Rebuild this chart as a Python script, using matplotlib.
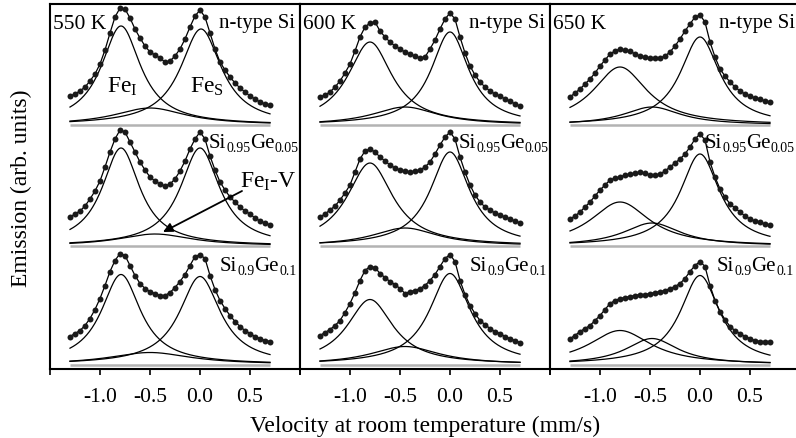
import numpy as np
import matplotlib
matplotlib.use('Agg')
from matplotlib import pyplot as plt

plt.rcParams['font.family'] = 'Liberation Serif'
plt.rcParams['mathtext.fontset'] = 'custom'
plt.rcParams['mathtext.rm'] = 'Liberation Serif'
plt.rcParams['mathtext.it'] = 'Liberation Serif:italic'
plt.rcParams['axes.unicode_minus'] = False

# velocity of the measured points (mm/s)
velocity = np.round(np.arange(-1.3, 0.7001, 0.05), 2)

temperatures = ['550 K', '600 K', '650 K']
# sample names as (text, subscript?) pieces
sample_parts = [[('n-type Si', False)],
                [('Si', False), ('0.95', True), ('Ge', False), ('0.05', True)],
                [('Si', False), ('0.9', True), ('Ge', False), ('0.1', True)]]
row_offset = [244, 123, 4.5]   # vertical shift of each spectrum

# measured emission (arb. units, above each spectrum's baseline)
n_si_550 = [29, 31, 34, 38, 44, 51, 61, 75, 92, 108, 117, 116, 107, 96, 87, 79, 73, 70, 67, 63, 64,
            69, 76, 86, 98, 109, 115, 108, 92, 76, 63, 55, 48, 42, 37, 33, 29, 26, 23, 21, 20]
sige5_550 = [29, 32, 35, 40, 47, 55, 65, 79, 94, 107, 116, 114, 104, 94, 84, 76, 69, 65, 62, 60, 62,
             67, 75, 85, 97, 107, 114, 107, 90, 76, 64, 56, 49, 44, 39, 35, 32, 28, 25, 23, 21]
sige10_550 = [28, 31, 34, 39, 46, 55, 66, 79, 93, 104, 111, 109, 99, 89, 81, 76, 73, 71, 69, 69, 72,
              77, 83, 90, 99, 108, 110, 106, 89, 75, 64, 56, 49, 43, 38, 34, 31, 28, 26, 24, 23]
n_si_600 = [28, 30, 33, 38, 44, 52, 61, 74, 88, 98, 102, 103, 94, 88, 83, 79, 76, 73, 71, 69, 67,
            68, 76, 85, 96, 106, 112, 106, 88, 72, 59, 50, 43, 38, 34, 31, 29, 26, 24, 21, 19]
sige5_600 = [29, 32, 36, 40, 46, 53, 61, 74, 87, 95, 97, 94, 89, 85, 81, 78, 76, 75, 74, 75, 76,
             79, 84, 92, 101, 109, 114, 107, 89, 74, 61, 51, 44, 39, 36, 33, 31, 29, 27, 25, 23]
sige10_600 = [29, 32, 35, 39, 44, 52, 61, 72, 84, 94, 98, 97, 91, 87, 83, 80, 76, 71, 73, 74, 76,
              79, 84, 90, 98, 106, 110, 103, 84, 70, 59, 51, 44, 40, 36, 33, 31, 28, 26, 24, 22]
n_si_650 = [28, 32, 36, 41, 46, 52, 59, 65, 71, 74, 76, 75, 74, 71, 69, 68, 67, 67, 67, 69, 73,
            79, 86, 94, 101, 108, 110, 103, 83, 68, 56, 49, 43, 38, 34, 31, 29, 27, 26, 24, 23]
sige5_650 = [27, 30, 34, 39, 44, 50, 56, 61, 66, 68, 69, 71, 72, 73, 74, 73, 71, 71, 72, 75, 79,
             83, 87, 92, 99, 107, 112, 106, 84, 69, 57, 49, 42, 38, 34, 30, 27, 25, 24, 22, 21]
sige10_650 = [26, 29, 33, 36, 39, 44, 49, 55, 61, 64, 66, 67, 68, 69, 70, 70, 71, 72, 73, 74, 76,
              78, 81, 86, 93, 99, 103, 98, 79, 64, 53, 45, 38, 34, 31, 28, 26, 24, 23, 23, 23]

spectra = [[n_si_550, sige5_550, sige10_550],
           [n_si_600, sige5_600, sige10_600],
           [n_si_650, sige5_650, sige10_650]]

# fitted Lorentzian components [temperature][sample]: height, position, half width
fe_i_amp = [[99, 98, 90], [83, 83, 65], [58, 44, 34]]
fe_i_pos = [[-0.79, -0.79, -0.79], [-0.80, -0.80, -0.80], [-0.80, -0.80, -0.80]]
fe_i_width = [[0.24, 0.23, 0.24], [0.27, 0.28, 0.28], [0.33, 0.36, 0.38]]
fe_s_amp = [[96, 98, 88], [93, 94, 91], [88, 92, 89]]
fe_s_pos = [[0.01, 0.0, 0.0], [0.0, 0.0, 0.0], [0.0, 0.0, 0.0]]
fe_s_width = [[0.25, 0.24, 0.25], [0.23, 0.24, 0.25], [0.24, 0.24, 0.24]]
fe_v_amp = [[17, 12, 12], [18, 18, 18], [18, 23, 26]]
fe_v_pos = [[-0.50, -0.45, -0.50], [-0.45, -0.45, -0.45], [-0.48, -0.48, -0.48]]
fe_v_width = [[0.44, 0.45, 0.50], [0.40, 0.40, 0.42], [0.35, 0.35, 0.32]]


def lorentz(x, amp, pos, width):
    return amp / (1 + ((x - pos) / width) ** 2)


def chem_label(ax, x, y, parts, size=15, sub_size=10):
    # writes text pieces one after another, subscripts smaller and lowered
    base = ax.text(x, y, parts[0][0], fontsize=size, va='baseline')
    prev = base
    for txt, sub in parts[1:]:
        prev = ax.annotate(txt, xy=(1, 0), xycoords=(prev, base),
                           xytext=(0, -1.6 if sub else 0), textcoords='offset points',
                           fontsize=sub_size if sub else size, va='bottom', ha='left')
    return base


# where the sample names start (mm/s) in each temperature panel
label_x = [[0.95, 0.09, 0.20], [0.95, 0.09, 0.20], [0.95, 0.05, 0.17]]
label_y = [342, 222, 99]

x_fit = np.linspace(velocity[0], velocity[-1], 300)

fig = plt.figure(figsize=(7.96, 4.39), dpi=100)

for t in range(3):
    ax = fig.add_axes([(50 + 250 * t) / 796, 69 / 439, 250 / 796, 365 / 439])
    for s in range(3):
        off = row_offset[s]
        ax.hlines(off, velocity[0], velocity[-1], color='0.7', lw=1.8)
        for amp, pos, wid in [(fe_i_amp, fe_i_pos, fe_i_width),
                              (fe_s_amp, fe_s_pos, fe_s_width),
                              (fe_v_amp, fe_v_pos, fe_v_width)]:
            ax.plot(x_fit, off + lorentz(x_fit, amp[t][s], pos[t][s], wid[t][s]),
                    color='black', lw=0.9)
        counts = off + np.array(spectra[t][s])
        ax.plot(velocity, counts, color='black', lw=0.9)
        ax.plot(velocity, counts, 'o', color='0.1', ms=4.3, mew=0)

    ax.text(-1.47, 341, temperatures[t], fontsize=15.5, va='baseline')
    ax.text(label_x[t][0], label_y[0], sample_parts[0][0][0], fontsize=15,
            va='baseline', ha='right')
    chem_label(ax, label_x[t][1], label_y[1], sample_parts[1])
    chem_label(ax, label_x[t][2], label_y[2], sample_parts[2])

    ax.set_xlim(-1.5, 1.0)
    ax.set_ylim(0, 365)
    ax.set_yticks([])
    ax.set_xticks([-1.5, -1.0, -0.5, 0.0, 0.5, 1.0])
    ax.set_xticklabels(['', '-1.0', '-0.5', '0.0', '0.5', ''])
    ax.tick_params(axis='x', direction='out', length=4, width=1.2, pad=9, labelsize=15.5)
    for sp in ax.spines.values():
        sp.set_linewidth(1.5)

    if t == 0:
        ax.text(-0.93, 277, r'Fe$_{\mathrm{I}}$', fontsize=17, va='baseline')
        ax.text(-0.10, 277, r'Fe$_{\mathrm{S}}$', fontsize=17, va='baseline')
        ax.text(0.40, 182, r'Fe$_{\mathrm{I}}$-V', fontsize=17, va='baseline')
        ax.annotate('', xy=(-0.37, 137), xytext=(0.42, 178),
                    arrowprops=dict(arrowstyle='-|>', color='black', lw=1.3,
                                    mutation_scale=14, shrinkA=0, shrinkB=0))

fig.text(425 / 796, 7 / 439, 'Velocity at room temperature (mm/s)', fontsize=17,
         ha='center', va='baseline')
fig.text(21 / 796, (439 - 188) / 439, 'Emission (arb. units)', fontsize=17,
         rotation=90, ha='center', va='center')

plt.savefig('out.png', dpi=100)
